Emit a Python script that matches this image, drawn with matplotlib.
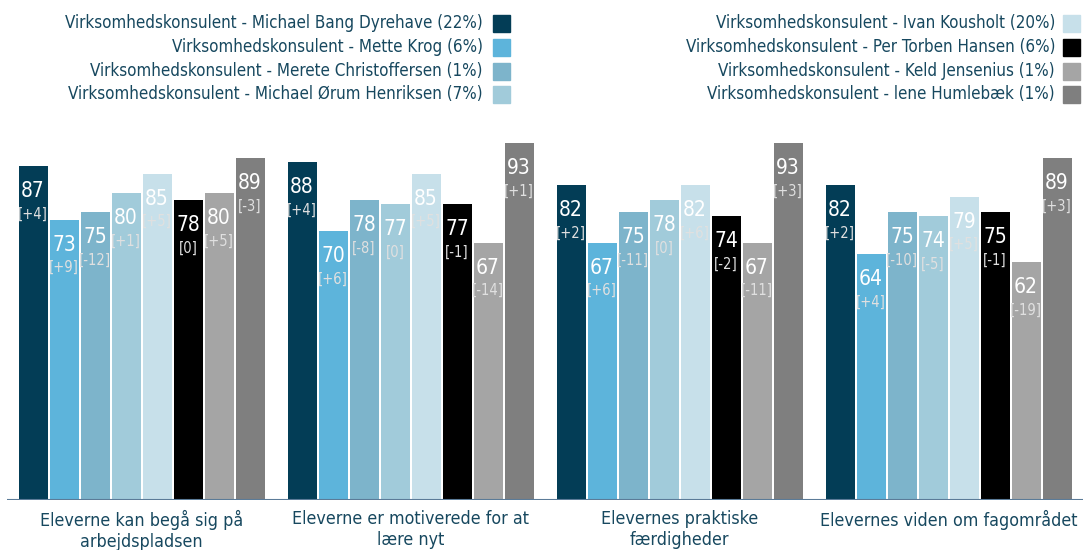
import matplotlib
matplotlib.use("Agg")
import matplotlib.pyplot as plt
from matplotlib.patches import Rectangle

categories = ["Eleverne kan begå sig på\narbejdspladsen",
              "Eleverne er motiverede for at\nlære nyt",
              "Elevernes praktiske\nfærdigheder",
              "Elevernes viden om fagområdet"]

series_names = [
    "Virksomhedskonsulent - Michael Bang Dyrehave (22%)",
    "Virksomhedskonsulent - Mette Krog (6%)",
    "Virksomhedskonsulent - Merete Christoffersen (1%)",
    "Virksomhedskonsulent - Michael Ørum Henriksen (7%)",
    "Virksomhedskonsulent - Ivan Kousholt (20%)",
    "Virksomhedskonsulent - Per Torben Hansen (6%)",
    "Virksomhedskonsulent - Keld Jensenius (1%)",
    "Virksomhedskonsulent - lene Humlebæk (1%)",
]

values = [
    [87, 88, 82, 82],
    [73, 70, 67, 64],
    [75, 78, 75, 75],
    [80, 77, 78, 74],
    [85, 85, 82, 79],
    [78, 77, 74, 75],
    [80, 67, 67, 62],
    [89, 93, 93, 89],
]

changes = [
    ["+4", "+4", "+2", "+2"],
    ["+9", "+6", "+6", "+4"],
    ["-12", "-8", "-11", "-10"],
    ["+1", "0", "0", "-5"],
    ["+5", "+5", "+6", "+5"],
    ["0", "-1", "-2", "-1"],
    ["+5", "-14", "-11", "-19"],
    ["-3", "+1", "+3", "+3"],
]

colors = ["#033D56", "#5DB4DB", "#7DB4CB", "#A1CBDA", "#C7E0EA",
          "#000000", "#A5A5A5", "#7F7F7F"]

text_color = "#17485F"
FONT = "DejaVu Sans"

W, H = 1083, 550
fig = plt.figure(figsize=(W / 100, H / 100), dpi=100)
ax = fig.add_axes([7 / W, 50 / H, (W - 7) / W, 384 / H])
ax.set_xlim(-0.5, 3.5)
ax.set_ylim(0, 100)
for s in ax.spines.values():
    s.set_visible(False)
ax.set_yticks([])
ax.set_xticks([])

pitch = 31 / 269
bw = 29 / 269
n = len(values)
px2pt = 72 / 100
for i in range(n):
    xs = [g + (i - (n - 1) / 2) * pitch for g in range(len(categories))]
    ax.bar(xs, values[i], width=bw, color=colors[i], zorder=2)
    for x, v, c in zip(xs, values[i], changes[i]):
        ax.annotate(str(v), (x, v), xytext=(0, -25 * px2pt), textcoords="offset points",
                    ha="center", va="center", color="white", fontsize=15, family=FONT,
                    stretch="condensed", zorder=3)
        ax.annotate(f"[{c}]", (x, v), xytext=(0, -48 * px2pt), textcoords="offset points",
                    ha="center", va="center", color="#E0E0E0", fontsize=10.5, family=FONT,
                    stretch="condensed", zorder=3)

ax.axhline(0, color="#5B7B98", lw=1.5, zorder=4)

for g, cat in enumerate(categories):
    ax.annotate(cat, (g, 0), xytext=(0, -10 * px2pt), textcoords="offset points",
                ha="center", va="top", color=text_color, fontsize=12.8, family=FONT,
                stretch="condensed", linespacing=1.2)

# legend
rows_y = [23, 47, 71, 94]
cols = [(483, 493), (1055, 1063)]
for i, name in enumerate(series_names):
    col = i // 4
    r = i % 4
    tx, sx = cols[col]
    y = rows_y[r]
    fig.text(tx / W, 1 - y / H, name, ha="right", va="center", color=text_color,
             fontsize=12.15, family=FONT, stretch="condensed")
    fig.patches.append(Rectangle((sx / W, 1 - (y + 8.5) / H), 17 / W, 17 / H,
                                 transform=fig.transFigure, color=colors[i], figure=fig))

fig.savefig("out.png", dpi=100)
